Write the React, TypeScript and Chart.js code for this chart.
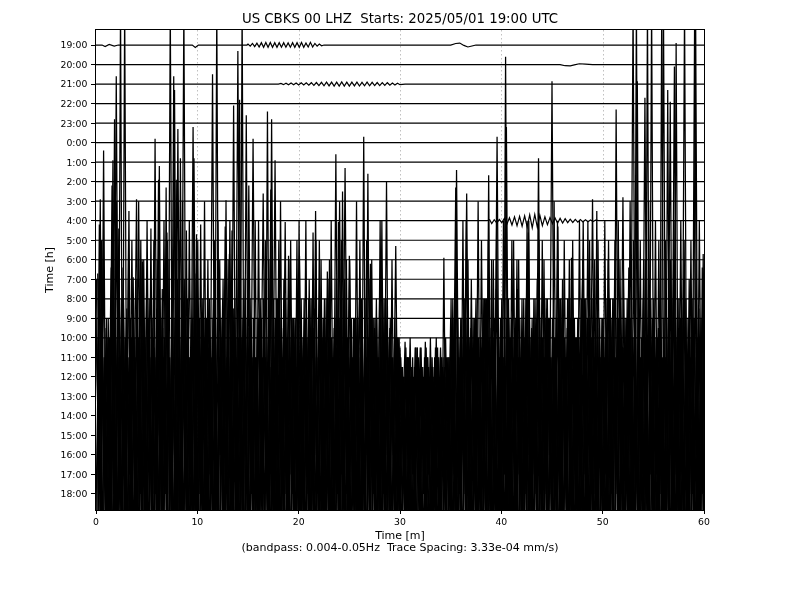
import { useEffect, useRef } from "react";
import { Chart, registerables } from "chart.js";

Chart.register(...registerables);

const chartTitle = "US CBKS 00 LHZ  Starts: 2025/05/01 19:00 UTC";
const xTitle = ["Time [m]", "(bandpass: 0.004-0.05Hz  Trace Spacing: 3.33e-04 mm/s)"];
const yTitle = "Time [h]";
const hourLabels = [
  "19:00", "20:00", "21:00", "22:00", "23:00", "0:00", "1:00", "2:00", "3:00", "4:00", "5:00", "6:00",
  "7:00", "8:00", "9:00", "10:00", "11:00", "12:00", "13:00", "14:00", "15:00", "16:00", "17:00", "18:00",
];
const minuteTicks = [0, 10, 20, 30, 40, 50, 60];

// Quiet traces: [minute, deflection in trace spacings]
const tr1900 = [[0,0],[0.6,0],[0.9,-0.08],[1.3,0.03],[1.8,-0.05],[2.2,0],[9.5,0],[9.8,-0.12],[10.1,0],[14.9,0],[15.0,0.05],[15.22,-0.06],[15.44,0.08],[15.66,-0.08],[15.88,0.1],[16.1,-0.1],[16.32,0.12],[16.54,-0.12],[16.76,0.13],[16.98,-0.12],[17.2,0.13],[17.42,-0.12],[17.64,0.12],[17.86,-0.12],[18.08,0.12],[18.3,-0.11],[18.52,0.12],[18.74,-0.11],[18.96,0.11],[19.18,-0.11],[19.4,0.12],[19.62,-0.12],[19.84,0.12],[20.06,-0.12],[20.28,0.13],[20.5,-0.12],[20.72,0.1],[20.94,-0.1],[21.16,0.14],[21.38,-0.1],[21.6,0.08],[21.82,-0.06],[22.04,0.05],[22.26,-0.04],[22.5,0],[35,0],[35.5,0.08],[35.9,0.1],[36.3,-0.02],[36.7,-0.1],[37.1,-0.05],[37.5,0],[60,0]];
const tr2000 = [[0,0],[45.8,0],[46.3,-0.06],[46.8,-0.07],[47.2,-0.02],[47.7,0.04],[48.3,0.02],[49,0],[60,0]];
const tr2100 = [[0,0],[18,0],[18.25,0.03],[18.5,-0.03],[18.75,0.04],[19,-0.04],[19.25,0.05],[19.5,-0.04],[19.75,0.05],[20,-0.05],[20.25,0.06],[20.5,-0.05],[20.75,0.06],[21,-0.06],[21.25,0.07],[21.5,-0.07],[21.75,0.08],[22,-0.08],[22.25,0.09],[22.5,-0.09],[22.75,0.1],[23,-0.09],[23.25,0.1],[23.5,-0.1],[23.75,0.1],[24,-0.1],[24.25,0.11],[24.5,-0.1],[24.75,0.1],[25,-0.1],[25.25,0.1],[25.5,-0.09],[25.75,0.1],[26,-0.1],[26.25,0.09],[26.5,-0.09],[26.75,0.1],[27,-0.09],[27.25,0.09],[27.5,-0.08],[27.75,0.08],[28,-0.08],[28.25,0.07],[28.5,-0.07],[28.75,0.07],[29,-0.06],[29.25,0.05],[29.5,-0.05],[29.75,0.04],[30,-0.03],[30.5,0],[60,0]];
const tr2200 = [[0,0],[60,0]];
const tr2300 = [[0,0],[60,0]];
const tr0000 = [[0,0],[60,0]];
const tr0100 = [[0,0],[60,0]];
const tr0200 = [[0,0],[60,0]];
const tr0300 = [[0,0],[60,0]];
const tr0400 = [[0,0],[38.6,0],[38.85,0.05],[39.05,-0.15],[39.3,0.05],[39.55,-0.12],[39.8,0.06],[40.05,-0.1],[40.3,0.12],[40.55,-0.18],[40.8,0.15],[41.05,-0.22],[41.3,0.2],[41.55,-0.26],[41.8,0.22],[42.05,-0.28],[42.3,0.25],[42.55,-0.32],[42.8,0.3],[43.05,-0.36],[43.3,0.32],[43.55,-0.34],[43.8,0.28],[44.05,-0.25],[44.3,0.2],[44.55,-0.2],[44.8,0.16],[45.05,-0.15],[45.3,0.14],[45.55,-0.13],[45.8,0.12],[46.05,-0.12],[46.3,0.1],[46.55,-0.1],[46.8,0.08],[47.05,-0.09],[47.3,0.07],[47.55,-0.07],[47.8,0.06],[48.05,-0.06],[48.3,0.05],[48.55,-0.05],[48.8,0.04],[49.05,-0.04],[49.3,0.03],[49.6,0],[60,0]];
const tr0500 = [[0,0],[60,0]];
const tr0600 = [[0,0],[60,0]];
const tr0700 = [[0,0],[60,0]];
const tr0800 = [[0,0],[60,0]];
const tr0900 = [[0,0],[60,0]];
const tr1000 = [[0,0],[60,0]];

// Noisy traces: samples every 0.25 minute (in trace spacings), from a per-trace start minute
const sampleStep = 0.25;
const tr1100 = [
  2,-5, 2.5,-6, 1.5,-4, 4.6,-7, 14.4,-8, 3,-5, 2,-6, 1,-4, 8.1,-8, 2,-6,
  3.5,-5, 1.5,-7, 2.5,-4, 1,-6, 6.4,-7, 2,-5, 1.5,-8, 3,-4, 2,-6, 1,-5,
  3,-7, 2,-4, 1.5,-6, 14.5,-8, 2,-5, 3,-7, 1,-4, 2.5,-6, 15.7,-8, 2,-5,
  1.5,-6, 11.2,-7, 2,-4, 8.4,-7, 1,-5, 3,-6, 2,-4, 1.5,-7, 5.2,-6, 2,-5,
  2.5,-6, 1,-4, 3,-8, 1.5,-5, 1,-6, 2,-4, 4,-7, 1.5,-5, 2,-6, 1,-7,
  5.2,-5, 2,-4, 3,-6, 1,-5, 2,-4, 1.5,-6, 3.5,-7, 1,-5, 1.5,-4, 2,-6,
  0.5,-4, 0.8,-5, 1,-6, 0.5,-4, 0.5,-5, 0.8,-6, 1,-7, 0.5,-4, 0.5,-5, 1,-6,
  2,-4, 8.7,-7, 2,-5, 2,-6, 1.5,-4, 3,-7, 1,-5, 2,-6, 1.5,-4, 3.5,-7,
  2,-6, 11.8,-8, 2,-5, 2,-6, 1,-8, 3,-5, 1.5,-6, 2,-4, 1,-6, 2.5,-5,
  14.15,-7, 2,-5, 3,-6, 1.5,-5, 2,-4, 1,-8, 4,-6, 2,-5, 8.1,-7, 1.5,-5,
  2,-6, 1,-5, 3,-4, 1.5,-6, 8.2,-7, 2,-5, 18,-8, 2,-6, 3,-5, 1,-6,
  2,-4, 1.5,-7, 18,-9, 2,-5, 3,-6, 1.5,-5, 4,-6, 1,-7, 2,-5, 2.5,-6,
  3,
];
const tr1200 = [
  2,-6, 3,-5, 1.5,-7, 9.8,-7, 2,-5, 3,-6, 1.5,-5, 2,-4, 4,-6, 5.9,-7,
  3,-4, 2,-6, 1.5,-5, 2.5,-6, 3.5,-5, 1,-7, 12.7,-8, 2,-4, 3,-5, 12.8,-7,
  2,-5, 3,-6, 1.5,-5, 4,-6, 2,-4, 2,-6, 1,-7, 13.9,-8, 2,-5, 3,-6,
  9.8,-6, 1.5,-5, 3,-5, 2,-4, 2,-6, 1,-4, 6,-7, 2,-5, 3,-5, 1.5,-6,
  6.2,-6, 2,-5, 2.5,-4, 1,-6, 4,-7, 2,-5, 2,-5, 3,-6, 1,-4, 10.7,-6,
  2,-5, 3,-6, 1.5,-5, 2,-3, 5.8,-6, 2,-5, 3,-6, 1,-5, 2,-4, 6.7,-6,
  1,-5, 1.5,-6, 0.5,-5, 1,-4, 1.5,-6, 1.5,-5, 0.5,-4, 2,-6, 1,-5, 1,-4,
  2,-5, 10.6,-6, 2,-5, 9.4,-7, 2,-5, 3,-6, 1.5,-5, 4,-6, 2,-4, 12.3,-7,
  2,-5, 3,-6, 1.5,-5, 4.5,-6, 2,-4, 2,-7, 1,-5, 3.5,-6, 2,-5, 2,-4,
  1.5,-6, 7.7,-7, 2,-5, 2.5,-4, 3,-6, 1.5,-5, 8,-7, 2,-5, 2,-6, 1,-5,
  2,-4, 7,-6, 2,-5, 3,-6, 1.5,-5, 5.6,-7, 2,-5, 3.5,-6, 1.5,-5, 4,-6,
  2,-5, 2,-4, 1,-7, 2,-4, 15.9,-8, 2,-5, 19,-8, 2,-6, 19,-8, 2,-6,
  4,
];
const tr1300 = [
  6.3,-6, 2,-4, 3,-5, 12.1,-7, 2,-5, 6.6,-5, 2,-6, 6.1,-6, 3,-5, 4,-7,
  2,-4, 3,-5, 11.1,-6, 2,-5, 3,-6, 16.4,-8, 2,-5, 20,-8, 2,-5, 12.2,-7,
  2.5,-5, 3,-6, 2,-5, 5,-6, 2,-4, 3,-5, 7.3,-7, 2,-5, 15.2,-8, 2,-6,
  4,-5, 2,-6, 2,-4, 3,-6, 1.5,-4, 12.1,-7, 2,-5, 8.94,-6, 2,-5, 3,-5,
  2,-6, 4,-5, 2,-6, 9.5,-7, 2,-5, 2.5,-5, 3,-6, 12.4,-7, 2,-5, 3,-6,
  2,-5, 4,-6, 2,-5, 2,-4, 3.5,-5, 5,-6, 2,-5, 11,-7, 2,-5, 3,-6,
  1.5,-5, 2,-4, 1.5,-5, 2.5,-6, 1.5,-5, 1.5,-4, 2,-5, 2,-6, 1.5,-4, 1,-5,
  2.5,-6, 3,-5, 2,-5, 4,-7, 2.5,-5, 3,-5, 2,-6, 5,-6, 2,-5, 3,-5,
  2,-6, 4,-5, 2,-7, 2,-5, 3,-5, 8.4,-6, 2,-5, 12.2,-7, 2,-5, 4,-5,
  2,-6, 3,-5, 2,-6, 5,-7, 2,-5, 2,-5, 3,-6, 4,-5, 2,-6, 3,-5,
  2,-7, 5,-5, 2,-5, 2,-6, 3,-5, 4,-6, 2,-5, 2,-4, 15.3,-7, 2,-5,
  3,-6, 2,-5, 2,-4, 15.1,-8, 2,-5, 4,-6, 2,-5, 2,-5, 20,-7, 2,-5,
  3,
];
const tr1400 = [
  -5,4, -6,13.6, -7,3, -5,5, -6,9.6, -7,4, -5,10.5, -6,3, -5,4, -6,5,
  -4,6, -7,3.5, -5,12.8, -6,4, -4,3, -7,16.7, -8,4, -5,5, -6,3, -5,7.3,
  -6,5, -5,5, -7,3, -5,3.5, -6,4, -5,9.7, -7,4, -5,4, -5,3, -6,6,
  -6,3, -5,3, -5,4.5, -4,3, -6,11.6, -7,5, -5,5, -6,3, -5,4, -5,2.5,
  -6,6, -7,4, -5,3, -4,4, -6,5, -6,3, -5,4, -7,3.5, -5,6, -5,4,
  -6,3, -6,4, -5,5, -7,3, -5,4, -5,3, -6,6, -6,4, -5,3, -7,4,
  -5,2.5, -5,3, -6,3, -6,2.5, -5,2.5, -5,3, -6,2.5, -6,3, -5,3, -5,3,
  -6,4, -6,3, -5,5, -7,4, -5,3, -5,4, -6,3, -7,12.33, -7,4, -5,4,
  -6,3, -5,5, -5,4, -6,3, -7,4, -5,6, -5,3, -6,4, -6,3, -5,5,
  -7,4, -5,3, -5,4, -6,6, -6,3, -5,4, -7,3, -5,5, -5,4, -6,3,
  -6,4, -5,6, -7,3, -5,4, -5,3, -6,5, -6,4, -5,3, -7,4, -5,6,
  -5,3, -6,4, -6,3, -5,4, -8,19.1, -8,5, -5,3, -6,4, -5,3, -5,4,
  -4,
];
const tr1500 = [
  -5,10.8, -6,4, -5,5, -4,16.2, -6,4, -7,22, -7,4, -5,5, -5,6, -6,3,
  -5,4, -6,15.2, -7,5, -5,4, -6,22, -7,3, -6,14.2, -6,5, -5,4, -5,6,
  -6,10.8, -6,4, -5,5, -5,3, -4,6, -6,12.05, -6,6, -5,4, -5,5, -6,16.4,
  -7,5, -5,4, -5,6, -4,3, -6,16.2, -6,7, -5,4, -5,5, -3,6, -6,10,
  -6,5, -4,4, -5,7, -5,3, -6,5, -6,8.4, -5,4, -4,6, -6,12.5, -6,5,
  -5,4, -4,6, -5,3, -7,13.4, -7,6, -5,4, -5,5, -6,4, -6,3, -5,5,
  -4,3, -5,4, -5,3, -6,4, -5,3, -4,3.5, -5,3, -4,4, -6,9.1, -6,4,
  -5,6, -5,4, -4,7, -6,5, -5,6, -6,4, -5,7, -5,5, -6,6, -4,4,
  -6,7, -6,5, -5,4, -5,6, -7,5, -7,4, -5,7, -5,5, -6,6, -6,4,
  -4,5, -4,7, -6,4, -6,6, -5,5, -5,4, -6,7, -6,5, -5,6, -5,4,
  -6,5, -6,6, -7,16.7, -7,5, -5,6, -5,4, -7,22, -7,5, -4,6, -6,22,
  -6,4, -7,22, -7,6, -5,7, -5,5, -6,6, -6,4, -5,7, -5,5, -6,8.6,
  -4,
];
const tr1600 = [
  -5,13.1, -7,5, -5,6, -6,7, -6,23, -8,6, -6,7, -5,5, -6,11, -7,6,
  -6,11.6, -6,5, -4,7, -6,13.7, -7,5, -6,14.1, -7,6, -6,11.5, -6,5, -5,11.3,
  -7,6, -5,7, -5,5, -6,23, -8,6, -4,5, -6,11.5, -7,6, -7,23, -8,7,
  -6,5, -6,6, -4,5, -6,17.6, -7,6, -5,8, -5,5, -6,6, -6,7, -5,8,
  -4,5, -5,6, -5,11.4, -6,5, -6,7, -5,6, -4,5, -6,11.94, -7,6, -6,5,
  -5,7, -4,5, -5,16.3, -7,6, -7,7, -5,5, -5,8, -6,6, -6,5, -5,6,
  -5,4, -4,5, -5,4.5, -6,4, -5,5, -5,4, -4,5, -5,4, -6,4.5, -6,5,
  -5,7, -5,6, -6,8, -6,5, -5,7, -5,6, -6,8, -6,5, -5,6, -5,7,
  -6,20.4, -7,6, -5,7, -6,5, -6,8, -5,6, -5,6, -6,7, -6,8, -4,5,
  -5,7, -6,6, -4,5, -6,10.1, -6,6, -5,8, -5,5, -4,6, -6,12.5, -7,7,
  -5,8, -5,6, -6,7, -6,5, -5,8, -5,6, -6,19.15, -7,6, -7,23, -8,7,
  -6,6, -6,5, -6,18.7, -7,6, -5,8, -5,6, -6,7, -6,5, -5,6, -5,10.3,
  -4,
];
const tr1700 = [
  10,-3, 12,-2, 8,-4, 11,-3, 14,-2, 9,-3, 8.5,-4, 12,-2, 10,-3, 11,-3,
  13,-2, 8,-4, 11,-3, 9.5,-2, 12,-3, 8,-3, 10,-4, 14,-2, 9,-3, 8,-3,
  12,-2, 9,-4, 11,-3, 8,-2, 13,-3, 10,-3, 11,-4, 8.5,-2, 12,-3, 9,-3,
  11,-2, 8,-4, 13,-3, 9,-2, 11,-3, 8,-3, 12,-4, 10,-2, 11,-3, 8,-3,
  13,-2, 9,-4, 10,-3, 8.5,-2, 12,-3, 9,-3, 11,-4, 8,-2, 14,-3, 10,-3,
  11,-2, 8,-4, 12,-3, 9,-2, 10,-3, 8,-3, 13,-4, 9,-2, 8,-3, 7,-3,
  5,-2, 6,-3, 5,-3, 6.5,-2, 5,-4, 5.5,-3, 6,-2, 5,-3, 6,-3, 5,-2,
  9,-4, 12,-3, 8,-2, 13,-3, 10,-3, 8,-4, 12,-2, 9,-3, 11,-3, 13,-2,
  9,-4, 8,-3, 12,-2, 11,-3, 9,-3, 13,-4, 8,-2, 10,-3, 12,-3, 9,-2,
  8,-4, 13,-3, 10,-2, 9,-3, 12,-3, 8,-4, 11,-2, 13,-3, 9,-3, 12,-2,
  8,-4, 11,-3, 9,-2, 13,-3, 10,-3, 8,-4, 12,-2, 9,-3, 11,-3, 14,-2,
  9,-4, 12,-3, 8,-2, 11,-3, 13,-3, 9,-4, 12,-2, 10,-3, 8,-3, 13,-2,
  9,
];
const tr1800 = [
  11,-2, 13,-3, 9,-2, 14,-3, 12,-2, 10,-3, 13,-2, 10,-3, 15,-2, 12,-3,
  9,-2, 13,-3, 10,-2, 14,-3, 12,-2, 9,-3, 13,-2, 11,-3, 14,-2, 12,-3,
  9,-2, 15,-3, 10,-2, 13,-3, 12,-2, 9,-3, 14,-2, 10,-3, 13,-2, 11,-3,
  10,-2, 14,-3, 10,-2, 13,-3, 12,-2, 9,-3, 15,-2, 10,-3, 13,-2, 9,-3,
  9,-2, 14,-3, 10,-2, 13,-3, 12,-2, 10,-3, 14,-2, 11,-3, 13,-2, 12,-3,
  9,-2, 15,-3, 10,-2, 13,-3, 12,-2, 9,-3, 14,-2, 10,-3, 12,-2, 8,-3,
  6,-2, 7,-3, 6.5,-2, 7.5,-3, 6,-2, 7,-3, 6,-2, 7.5,-3, 6.5,-2, 7,-3,
  10,-2, 9,-3, 14,-2, 12,-3, 9,-2, 15,-3, 10,-2, 13,-3, 12,-2, 9,-3,
  14,-2, 10,-3, 13,-2, 12,-3, 10,-2, 14,-3, 10,-2, 13,-3, 12,-2, 9,-3,
  15,-2, 10,-3, 13,-2, 12,-3, 9,-2, 14,-3, 10,-2, 13,-3, 12,-2, 9,-3,
  14,-2, 10,-3, 13,-2, 12,-3, 9,-2, 15,-3, 10,-2, 13,-3, 12,-2, 9,-3,
  14,-2, 10,-3, 13,-2, 12,-3, 9,-2, 14,-3, 10,-2, 13,-3, 12,-2, 9,-3,
  10,
];

const quietTraces: Record<string, number[][]> = {
  "19:00": tr1900, "20:00": tr2000, "21:00": tr2100, "22:00": tr2200, "23:00": tr2300,
  "0:00": tr0000, "1:00": tr0100, "2:00": tr0200, "3:00": tr0300, "4:00": tr0400,
  "5:00": tr0500, "6:00": tr0600, "7:00": tr0700, "8:00": tr0800, "9:00": tr0900, "10:00": tr1000,
};
const noisyTraces: Record<string, number[]> = {
  "11:00": tr1100, "12:00": tr1200, "13:00": tr1300, "14:00": tr1400,
  "15:00": tr1500, "16:00": tr1600, "17:00": tr1700, "18:00": tr1800,
};
const noisyStart: Record<string, number> = {
  "11:00": 0, "12:00": 0.08, "13:00": 0.17, "14:00": 0, "15:00": 0.08, "16:00": 0.17, "17:00": 0.04, "18:00": 0.21,
};

function tracePoints(label: string, row: number) {
  const base = hourLabels.length - 1 - row;
  const samples = noisyTraces[label];
  if (samples) {
    const start = noisyStart[label];
    return samples.map((v, j) => ({ x: start + j * sampleStep, y: base + v }));
  }
  return quietTraces[label].map(([t, v]) => ({ x: t, y: base + v }));
}

const FONT = "DejaVu Sans";

const framePlugin = {
  id: "heliFrame",
  beforeDatasetsDraw(chart: any) {
    const { ctx, chartArea: a, scales } = chart;
    const x = scales.x;
    ctx.save();
    ctx.strokeStyle = "#b0b0b0";
    ctx.lineWidth = 0.8;
    ctx.setLineDash([1.5, 2.5]);
    for (const m of minuteTicks) {
      if (m <= 0 || m >= 60) continue;
      const px = Math.round(x.getPixelForValue(m)) + 0.5;
      ctx.beginPath();
      ctx.moveTo(px, a.top);
      ctx.lineTo(px, a.bottom);
      ctx.stroke();
    }
    ctx.restore();
  },
  afterDatasetsDraw(chart: any) {
    const { ctx, chartArea: a } = chart;
    ctx.save();
    ctx.strokeStyle = "#000";
    ctx.lineWidth = 1;
    ctx.strokeRect(Math.round(a.left) - 0.5, Math.round(a.top) - 0.5, Math.round(a.right - a.left) + 1, Math.round(a.bottom - a.top) + 1);
    ctx.restore();
  },
};

export default function App() {
  const ref = useRef<HTMLCanvasElement | null>(null);
  useEffect(() => {
    if (!ref.current) return;
    Chart.defaults.font.family = FONT;
    Chart.defaults.color = "#000";
    const chart = new Chart(ref.current, {
      type: "line",
      data: {
        datasets: hourLabels.map((h, i) => ({
          label: h,
          data: tracePoints(h, i),
          borderColor: "#000",
          borderWidth: noisyTraces[h] ? 1.25 : 1.2,
          pointRadius: 0,
          tension: 0,
          fill: false,
          clip: 0,
        })),
      },
      options: {
        animation: false,
        responsive: false,
        events: [],
        layout: { padding: 0 },
        plugins: {
          legend: { display: false },
          tooltip: { enabled: false },
          title: {
            display: true,
            text: chartTitle,
            color: "#000",
            font: { family: FONT, size: 13.3, weight: "normal", lineHeight: 1.2 },
            padding: { top: 11.5, bottom: 2.54 },
          },
        },
        scales: {
          x: {
            type: "linear",
            min: 0,
            max: 60,
            afterBuildTicks: (axis: any) => {
              axis.ticks = minuteTicks.map((v) => ({ value: v }));
            },
            afterFit: (s: any) => {
              s.height = 90;
            },
            ticks: { font: { family: FONT, size: 9.3 }, color: "#000", padding: 2.7, autoSkip: false, maxRotation: 0 },
            grid: { display: true, drawOnChartArea: false, drawTicks: true, tickLength: 4, color: "#000" },
            border: { display: false },
            title: {
              display: true,
              text: xTitle,
              color: "#000",
              font: { family: FONT, size: 11, lineHeight: 1.1 },
              padding: { top: 0, bottom: 45.45 },
            },
          },
          y: {
            type: "linear",
            min: -0.82,
            max: 23.77,
            afterBuildTicks: (axis: any) => {
              axis.ticks = hourLabels.map((_, i) => ({ value: i }));
            },
            afterFit: (s: any) => {
              s.width = 96;
            },
            ticks: {
              font: { family: FONT, size: 9.3 },
              color: "#000",
              padding: 3.7,
              autoSkip: false,
              labelOffset: 1,
              callback: (v: any) => hourLabels[hourLabels.length - 1 - Number(v)],
            },
            grid: { display: true, drawOnChartArea: false, drawTicks: true, tickLength: 5, color: "#000" },
            border: { display: false },
            title: {
              display: true,
              text: yTitle,
              color: "#000",
              font: { family: FONT, size: 11, lineHeight: 1.1 },
              padding: { top: 43.95, bottom: 0 },
            },
          },
          yRight: {
            type: "linear",
            position: "right",
            display: true,
            afterFit: (s: any) => {
              s.width = 96;
            },
            ticks: { display: false },
            grid: { display: false },
            border: { display: false },
          },
        },
      },
      plugins: [framePlugin],
    } as any);
    return () => chart.destroy();
  }, []);
  return (
    <div style={{ position: "absolute", left: 0, top: 0, width: 800, height: 600, background: "#fff" }}>
      <canvas ref={ref} width={800} height={600} />
    </div>
  );
}
